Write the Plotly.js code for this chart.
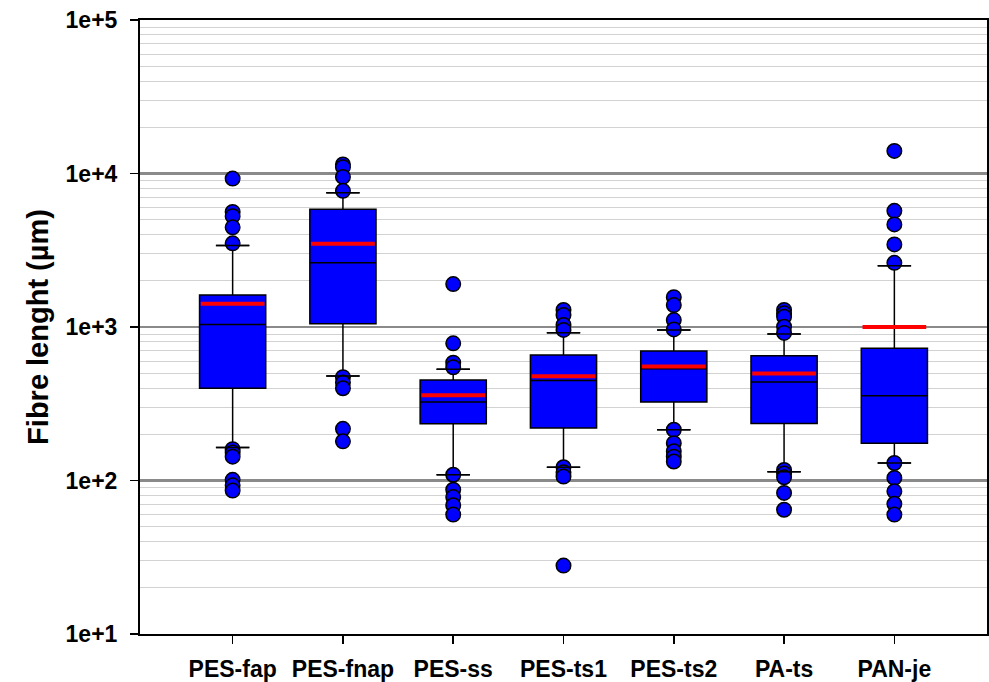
<!DOCTYPE html>
<html>
<head>
<meta charset="utf-8">
<script src="https://cdn.plot.ly/plotly-3.0.1.min.js"></script>
<style>html,body{margin:0;padding:0;background:#fff;}#chart{width:989px;height:682px;}</style>
</head>
<body>
<div id="chart"></div>
<script>
// ---- data ----
const categories = ['PES-fap', 'PES-fnap', 'PES-ss', 'PES-ts1', 'PES-ts2', 'PA-ts', 'PAN-je'];
const q1Values     = [399, 1050, 234, 220, 325, 235, 175];
const medianValues = [1040, 2620, 325, 448, 535, 438, 357];
const q3Values     = [1615, 5840, 452, 658, 698, 650, 727];
const lowerWhisker = [164, 480, 109, 122, 214, 114, 130];
const upperWhisker = [3400, 7480, 531, 918, 955, 900, 2505];
const meanValues   = [1418, 3480, 359, 478, 552, 497, 1000];

const outliersPESfap  = [9270, 5620, 5270, 4460, 3510, 160, 152, 143, 101, 93, 86];
const outliersPESfnap = [11440, 11000, 9500, 7710, 471, 435, 399, 217, 180];
const outliersPESss   = [1905, 783, 586, 547, 109, 87, 78, 69, 60];
const outliersPESts1  = [1290, 1197, 1030, 957, 122, 113, 106, 27.9];
const outliersPESts2  = [1565, 1390, 1110, 965, 214, 175, 155, 143, 133];
const outliersPAts    = [1290, 1227, 1166, 1004, 915, 117, 111, 105, 83, 64.5];
const outliersPANje   = [14030, 5710, 4660, 3450, 2620, 130, 104, 85, 70.5, 60];

const yTickVals = [10, 100, 1000, 10000, 100000];
const yTickText = ['1e+1', '1e+2', '1e+3', '1e+4', '1e+5'];
const yTitle = 'Fibre lenght (µm)';

// ---- build traces ----
const outlierGroups = [outliersPESfap, outliersPESfnap, outliersPESss, outliersPESts1,
                       outliersPESts2, outliersPAts, outliersPANje];
const outX = [], outY = [];
outlierGroups.forEach((g, i) => g.forEach(v => { outX.push(categories[i]); outY.push(v); }));

// minor gridline positions (2..9 in each decade) - styling only
const minorVals = [];
for (let d = 1; d < 5; d++) for (let k = 2; k <= 9; k++) minorVals.push(k * Math.pow(10, d));

const FONT = 'Liberation Sans, Arial, Helvetica, sans-serif';

const boxTrace = {
  type: 'box', x: categories,
  q1: q1Values, median: medianValues, q3: q3Values,
  lowerfence: lowerWhisker, upperfence: upperWhisker,
  width: 0.6, whiskerwidth: 0.5,
  fillcolor: '#0000ff', line: {color: '#000000', width: 1.5},
  boxpoints: false, boxmean: false, hoverinfo: 'skip', showlegend: false
};
const outTrace = {
  type: 'scatter', mode: 'markers', x: outX, y: outY,
  marker: {symbol: 'circle', size: 14.5, color: '#0000ff', line: {color: '#000000', width: 1.5}},
  hoverinfo: 'skip', showlegend: false
};
const capTrace = {
  type: 'scatter', mode: 'markers',
  x: categories.concat(categories), y: lowerWhisker.concat(upperWhisker),
  marker: {symbol: 'line-ew', size: 24, color: '#000000', line: {color: '#000000', width: 1.5}},
  hoverinfo: 'skip', showlegend: false
};
const meanTrace = {
  type: 'scatter', mode: 'markers', x: categories, y: meanValues,
  marker: {symbol: 'line-ew', size: 45.5, color: '#ff0000', line: {color: '#ff0000', width: 4}},
  hoverinfo: 'skip', showlegend: false
};

const layout = {
  width: 989, height: 682,
  margin: {l: 140, r: 2, t: 20, b: 48},
  paper_bgcolor: '#ffffff', plot_bgcolor: '#ffffff',
  showlegend: false,
  font: {family: FONT, color: '#000000'},
  xaxis: {
    type: 'category', range: [-0.84, 6.84],
    showgrid: false, zeroline: false,
    showline: true, linecolor: '#000000', linewidth: 2, mirror: true,
    ticks: 'outside', ticklen: 8, tickwidth: 1.5, tickcolor: '#000000',
    ticklabelstandoff: 5,
    tickfont: {family: FONT, size: 23, weight: 'bold', color: '#000000'}
  },
  yaxis: {
    type: 'log', range: [1, 5],
    tickmode: 'array', tickvals: yTickVals, ticktext: yTickText,
    showgrid: true, gridcolor: '#8a8a8a', gridwidth: 2.5, zeroline: false,
    showline: true, linecolor: '#000000', linewidth: 2, mirror: true,
    ticks: 'outside', ticklen: 8, tickwidth: 1.5, tickcolor: '#000000',
    ticklabelstandoff: 8,
    tickfont: {family: FONT, size: 23, weight: 'bold', color: '#000000'},
    minor: {tickmode: 'array', tickvals: minorVals, showgrid: true, gridcolor: '#d2d2d2', gridwidth: 1, ticks: ''},
    title: {text: yTitle, font: {family: FONT, size: 29, weight: 'bold', color: '#000000'}, standoff: 8}
  }
};

Plotly.newPlot('chart', [boxTrace, outTrace, capTrace, meanTrace], layout, {displayModeBar: false, staticPlot: true});
</script>
</body>
</html>
